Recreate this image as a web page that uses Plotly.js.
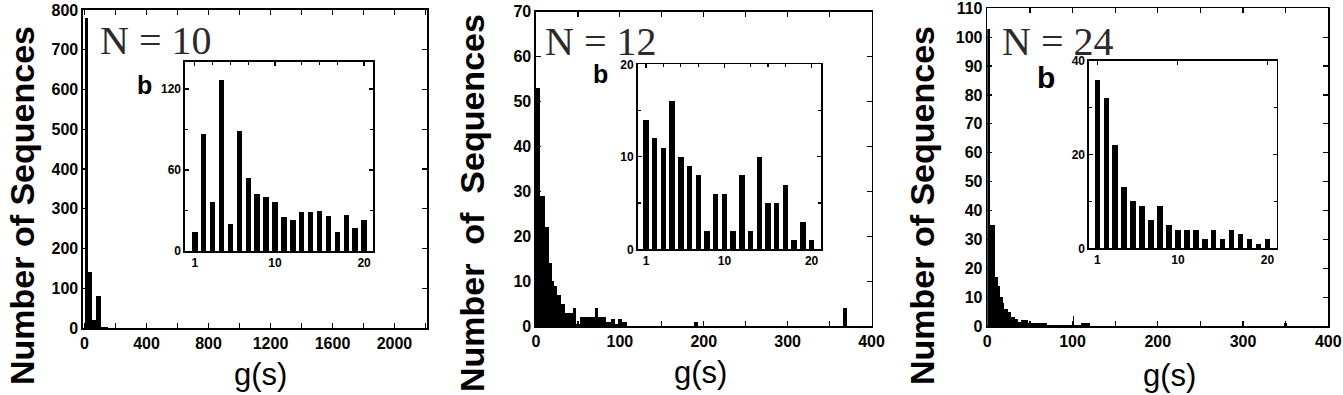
<!DOCTYPE html>
<html>
<head>
<meta charset="utf-8">
<script src="https://cdn.plot.ly/plotly-3.0.1.min.js"></script>
<style>html,body{margin:0;padding:0;background:#fff;}#chart{width:1343px;height:395px;}</style>
</head>
<body>
<div id="chart"></div>
<script>
// ---------- DATA ----------
// inset categories g(s) = 1..20
const insetG = [1,2,3,4,5,6,7,8,9,10,11,12,13,14,15,16,17,18,19,20];

// N = 10 main histogram (bin start, bin end, count)
const n10Start = [0, 23, 48, 75, 104];
const n10End   = [23, 48, 75, 104, 150];
const n10Count = [780, 140, 20, 80, 3];
// N = 10 inset counts
const n10Inset = [14, 87, 36, 127, 20, 89, 54, 42, 40, 36, 25, 23, 29, 29, 30, 26, 14, 27, 17, 23];

// N = 12 main histogram
const n12Start = [0, 5, 11, 15, 19, 22, 25, 30, 34, 44, 48, 52, 70, 74, 84, 90, 94, 98, 102, 188, 366];
const n12End   = [5, 11, 15, 19, 22, 25, 30, 34, 44, 48, 52, 70, 74, 84, 90, 94, 98, 102, 108, 193, 371];
const n12Count = [53, 29, 22, 14, 10, 9, 7, 5, 3, 4, 0.5, 2, 4, 2, 1, 1.5, 0.5, 1.5, 1, 1, 4];
// N = 12 inset counts
const n12Inset = [14, 12, 11, 16, 10, 9, 8, 2, 6, 6, 2, 8, 2, 10, 5, 5, 7, 1, 3, 1];

// N = 24 main histogram
const n24Start = [0, 3, 9, 12, 15, 18, 20, 24, 28, 32, 36, 40, 48, 56, 70, 100, 102, 110, 348];
const n24End   = [3, 9, 12, 15, 18, 20, 24, 28, 32, 36, 40, 48, 56, 70, 100, 102, 110, 120, 352];
const n24Count = [103, 35, 17, 14, 10, 8, 6, 5, 3, 2.5, 1.5, 2, 1, 1, 0.3, 3.5, 0.5, 1, 1];
// N = 24 inset counts
const n24Inset = [36, 32, 22, 13, 10, 9, 6, 9, 5, 4, 4, 4, 2, 4, 2, 4, 3, 2, 1, 2];

// tick labels
const n10MainXTicks = [0, 400, 800, 1200, 1600, 2000];
const n12MainXTicks = [0, 100, 200, 300, 400];
const n24MainXTicks = [0, 100, 200, 300, 400];
const insetXTicks = [1, 10, 20];
const n10InsetYTicks = [0, 60, 120];
const n12InsetYTicks = [0, 10, 20];
const n24InsetYTicks = [0, 20, 40];

// ---------- HELPERS ----------
function centers(s, e) { return s.map((v, i) => (v + e[i]) / 2); }
function widths(s, e) { return s.map((v, i) => e[i] - v); }

const W = 1343, H = 395;
const dx = (a, b) => [a / W, b / W];
const dy = (top, bottom) => [(H - bottom) / H, (H - top) / H];

const sansB = {family: 'Liberation Sans, Arial, sans-serif', color: '#000', weight: 'bold'};

function mainTrace(s, e, c, xa, ya) {
  return {type: 'bar', x: centers(s, e), y: c, width: widths(s, e),
    marker: {color: '#000', line: {width: 0}}, xaxis: xa, yaxis: ya, hoverinfo: 'skip', showlegend: false};
}
function insetTrace(c, xa, ya) {
  return {type: 'bar', x: insetG, y: c, width: 0.62,
    marker: {color: '#000', line: {width: 0}}, xaxis: xa, yaxis: ya, hoverinfo: 'skip', showlegend: false};
}

function axBase(extra) {
  return Object.assign({
    showline: true, linecolor: '#000', linewidth: 1.6, mirror: 'ticks',
    ticks: 'inside', ticklen: 5, tickwidth: 1.2, tickcolor: '#000',
    showgrid: false, zeroline: false, fixedrange: true, automargin: false,
    ticklabeloverflow: 'allow',
  }, extra);
}

const traces = [
  mainTrace(n10Start, n10End, n10Count, 'x', 'y'),
  insetTrace(n10Inset, 'x2', 'y2'),
  mainTrace(n12Start, n12End, n12Count, 'x3', 'y3'),
  insetTrace(n12Inset, 'x4', 'y4'),
  mainTrace(n24Start, n24End, n24Count, 'x5', 'y5'),
  insetTrace(n24Inset, 'x6', 'y6'),
];

const mainTickFont = Object.assign({size: 16}, sansB);
const insetTickFont = Object.assign({size: 12}, sansB);

const layout = {
  width: W, height: H,
  margin: {l: 0, r: 0, t: 0, b: 0},
  paper_bgcolor: '#fff', plot_bgcolor: 'rgba(0,0,0,0)',
  bargap: 0, showlegend: false,
  // N = 10 main
  xaxis: axBase({domain: dx(83, 427), range: [-10, 2210], anchor: 'y',
    tickmode: 'array', tickvals: n10MainXTicks, tickfont: mainTickFont,
    minor: {tickmode: 'array', tickvals: [200, 600, 1000, 1400, 1800, 2200], ticks: 'inside', ticklen: 5, tickcolor: '#000'}}),
  yaxis: axBase({domain: dy(10, 328), range: [0, 800], anchor: 'x', dtick: 100, tickfont: mainTickFont}),
  // N = 10 inset
  xaxis2: axBase({domain: dx(185, 373), range: [-0.1, 21], anchor: 'y2',
    tickmode: 'array', tickvals: insetXTicks, tickfont: insetTickFont, ticklen: 4,
    minor: {tickmode: 'array', tickvals: [3, 5, 7, 13, 15, 17], ticks: 'inside', ticklen: 3, tickcolor: '#000'}}),
  yaxis2: axBase({domain: dy(62, 251), range: [0, 140], anchor: 'x2',
    tickmode: 'array', tickvals: n10InsetYTicks, tickfont: insetTickFont, ticklen: 4,
    minor: {tickmode: 'array', tickvals: [30, 90], ticks: 'inside', ticklen: 3, tickcolor: '#000'}}),
  // N = 12 main
  xaxis3: axBase({domain: dx(536, 871.5), range: [0, 400], anchor: 'y3',
    tickmode: 'array', tickvals: n12MainXTicks, tickfont: mainTickFont,
    minor: {tickmode: 'array', tickvals: [50, 150, 250, 350], ticks: 'inside', ticklen: 5, tickcolor: '#000'}}),
  yaxis3: axBase({domain: dy(11.7, 326), range: [0, 70], anchor: 'x3', dtick: 10, tickfont: mainTickFont}),
  // N = 12 inset
  xaxis4: axBase({domain: dx(637.7, 821), range: [0.05, 21.08], anchor: 'y4',
    tickmode: 'array', tickvals: insetXTicks, tickfont: insetTickFont, ticklen: 4,
    minor: {tickmode: 'array', tickvals: [3, 5, 7, 13, 15, 17], ticks: 'inside', ticklen: 3, tickcolor: '#000'}}),
  yaxis4: axBase({domain: dy(64.3, 249.3), range: [0, 20], anchor: 'x4',
    tickmode: 'array', tickvals: n12InsetYTicks, tickfont: insetTickFont, ticklen: 4,
    minor: {tickmode: 'array', tickvals: [5, 15], ticks: 'inside', ticklen: 3, tickcolor: '#000'}}),
  // N = 24 main
  xaxis5: axBase({domain: dx(987.3, 1328.3), range: [0, 400], anchor: 'y5',
    tickmode: 'array', tickvals: n24MainXTicks, tickfont: mainTickFont,
    minor: {tickmode: 'array', tickvals: [50, 150, 250, 350], ticks: 'inside', ticklen: 5, tickcolor: '#000'}}),
  yaxis5: axBase({domain: dy(8.3, 326), range: [0, 110], anchor: 'x5', dtick: 10, tickfont: mainTickFont}),
  // N = 24 inset
  xaxis6: axBase({domain: dx(1089, 1276.7), range: [0.07, 21.04], anchor: 'y6',
    tickmode: 'array', tickvals: insetXTicks, tickfont: insetTickFont, ticklen: 4}),
  yaxis6: axBase({domain: dy(61, 248.3), range: [0, 40], anchor: 'x6',
    tickmode: 'array', tickvals: n24InsetYTicks, tickfont: insetTickFont, ticklen: 4,
    minor: {tickmode: 'array', tickvals: [10, 30], ticks: 'inside', ticklen: 3, tickcolor: '#000'}}),
  annotations: []
};

function ann(text, xpx, ypx, font, opts) {
  layout.annotations.push(Object.assign({
    text: text, xref: 'paper', yref: 'paper', x: xpx / W, y: (H - ypx) / H,
    xanchor: 'center', yanchor: 'middle', showarrow: false, font: font
  }, opts || {}));
}
const serifN = {family: 'Liberation Serif, Times New Roman, serif', size: 40, color: '#2a2a2a'};
ann('N = 10', 98, 40, serifN, {xanchor: 'left', height: 32});
ann('N = 12', 543, 41, serifN, {xanchor: 'left', height: 32});
ann('N = 24', 1000, 41, serifN, {xanchor: 'left', height: 32});

ann('b', 144, 85, Object.assign({size: 25}, sansB));
ann('b', 600, 74, Object.assign({size: 25}, sansB), {height: 22});
ann('b', 1046, 77, Object.assign({size: 30}, sansB));

const yTitleFont = Object.assign({size: 34}, sansB);
ann('Number of Sequences', 22, 206, yTitleFont, {textangle: -90});
ann('Number&nbsp; of&nbsp; Sequences', 472, 203, yTitleFont, {textangle: -90});
ann('Number of Sequences', 922, 206, yTitleFont, {textangle: -90});

const xTitleFont = {family: 'Liberation Sans, Arial, sans-serif', size: 31, color: '#000'};
ann('g(s)', 260, 374, xTitleFont);
ann('g(s)', 700, 372, xTitleFont);
ann('g(s)', 1169, 375, xTitleFont);

Plotly.newPlot('chart', traces, layout, {displayModeBar: false, staticPlot: true});
</script>
</body>
</html>
